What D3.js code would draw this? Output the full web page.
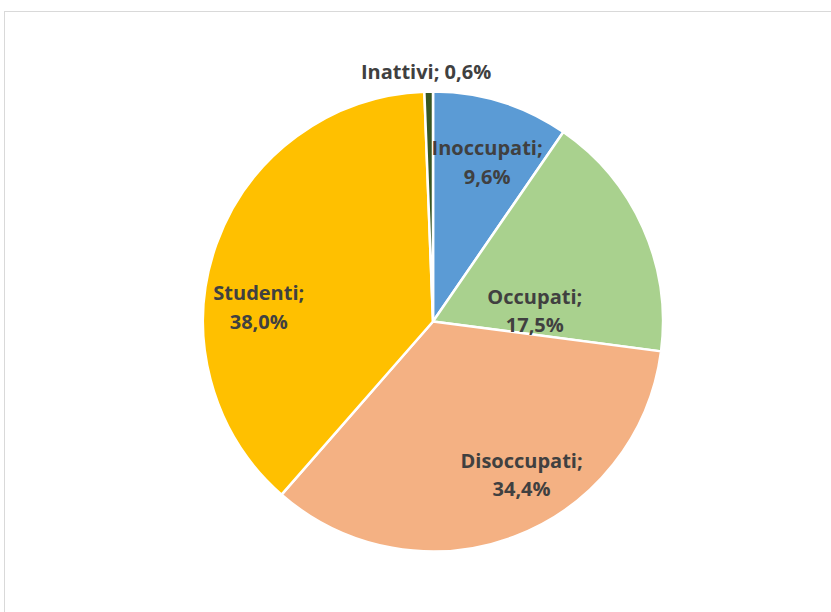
<!DOCTYPE html>
<html>
<head>
<meta charset="utf-8">
<script src="https://cdn.jsdelivr.net/npm/d3@7"></script>
<style>
  html, body { margin: 0; padding: 0; background: #fff; }
  svg { display: block; }
</style>
</head>
<body>
<svg id="chart" width="831" height="612"></svg>
<script>
// Condizione professionale (quote percentuali)
const categories = ["Inoccupati", "Occupati", "Disoccupati", "Studenti", "Inattivi"];
const values = [9.6, 17.5, 34.4, 38.0, 0.6];
const labels = ["9,6%", "17,5%", "34,4%", "38,0%", "0,6%"];
const colors = ["#5B9BD5", "#A9D18E", "#F4B183", "#FFC000", "#375623"];

// Label anchors: angle (degrees, clockwise from top) and distance as a share of the radius
const labelAngle = [18.8, 84, 150, 274.6, -1.6];
const labelRadius = [0.73, 0.445, 0.77, 0.76, 1.085];
const labelInline = [false, false, false, false, true];

const W = 831, H = 612;
const cx = 433, cy = 321.5, R = 230;

const svg = d3.select("#chart");

// chart frame
svg.append("rect")
  .attr("x", 4.5).attr("y", 11.5)
  .attr("width", W).attr("height", H)
  .attr("fill", "#fff")
  .attr("stroke", "#D9D9D9").attr("stroke-width", 1);

const g = svg.append("g").attr("transform", `translate(${cx},${cy})`);

const pie = d3.pie().sort(null).value(d => d)
  .startAngle(0).endAngle(2 * Math.PI);
const arcs = pie(values);
const arc = d3.arc().innerRadius(0).outerRadius(R);

g.selectAll("path.slice")
  .data(arcs)
  .join("path")
  .attr("class", "slice")
  .attr("d", arc)
  .attr("fill", (d, i) => colors[i])
  .attr("stroke", "#fff")
  .attr("stroke-width", 2.5)
  .attr("stroke-linejoin", "round");

const lineH = 28.5;
const lbl = g.selectAll("text.lbl")
  .data(arcs)
  .join("text")
  .attr("class", "lbl")
  .attr("font-family", "'Open Sans', Lato, sans-serif")
  .attr("font-weight", "bold")
  .attr("font-size", 20)
  .attr("fill", "#404040")
  .attr("text-anchor", "middle")
  .attr("transform", (d, i) => {
    const a = labelAngle[i] * Math.PI / 180;
    const r = labelRadius[i] * R;
    return `translate(${r * Math.sin(a)},${-r * Math.cos(a)})`;
  });

lbl.each(function(d, i) {
  const t = d3.select(this);
  if (labelInline[i]) {
    t.append("tspan").attr("x", 0).attr("dy", "0.35em")
      .text(`${categories[i]}; ${labels[i]}`);
  } else {
    t.append("tspan").attr("x", 0).attr("y", -lineH / 2).attr("dy", "0.35em")
      .text(`${categories[i]};`);
    t.append("tspan").attr("x", 0).attr("y", lineH / 2).attr("dy", "0.35em")
      .text(labels[i]);
  }
});
</script>
</body>
</html>
